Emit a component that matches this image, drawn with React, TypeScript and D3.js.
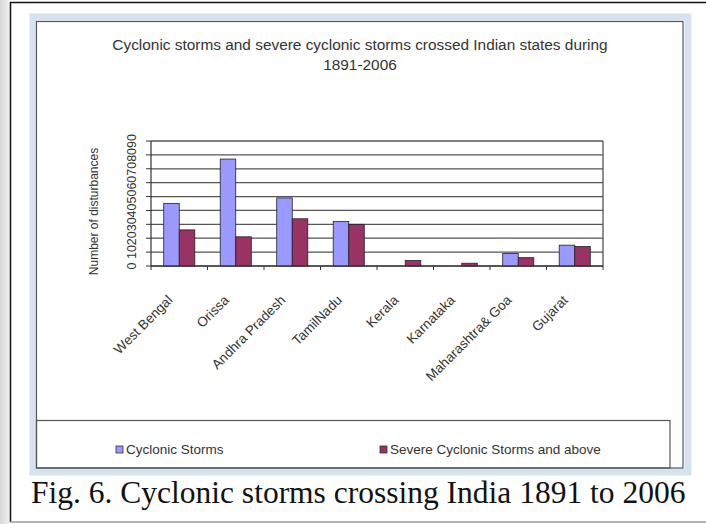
import React from "react";
import * as d3 from "d3";

// Indian states crossed by storms, 1891-2006
const states = [
  "West Bengal",
  "Orissa",
  "Andhra Pradesh",
  "TamilNadu",
  "Kerala",
  "Karnataka",
  "Maharashtra& Goa",
  "Gujarat",
];
const seriesNames = ["Cyclonic Storms", "Severe Cyclonic Storms and above"];
const cyclonicStorms = [45, 77, 49, 32, 0, 0, 9, 15];
const severeStorms = [26, 21, 34, 30, 4, 2, 6, 14];
const yTicks = [0, 10, 20, 30, 40, 50, 60, 70, 80, 90];
const seriesColors = ["#9999ff", "#993366"];

const W = 706;
const H = 524;
const plot = { left: 151, right: 603, top: 141, bottom: 266 };

export default function App() {
  const x0 = d3.scaleBand<string>().domain(states).range([plot.left, plot.right]).padding(0);
  const groupW = x0.bandwidth() * 0.55;
  const x1 = d3.scaleBand<number>().domain([0, 1]).range([0, groupW]);
  const y = d3.scaleLinear().domain([0, 90]).range([plot.bottom, plot.top]);
  const values = [cyclonicStorms, severeStorms];
  const sans = "'Liberation Sans', Arial, sans-serif";

  return (
    <svg
      width={W}
      height={H}
      style={{ position: "absolute", left: 0, top: 0, background: "#fff" }}
    >
      <defs>
        <linearGradient id="edge" x1="0" x2="1" y1="0" y2="0">
          <stop offset="0" stopColor="#d8d8d8" />
          <stop offset="1" stopColor="#f2f2f2" />
        </linearGradient>
      </defs>
      <rect x={0} y={0} width={10} height={H} fill="url(#edge)" />
      {/* figure frame */}
      <line x1={10.5} y1={2} x2={10.5} y2={522} stroke="#111" strokeWidth={1.5} />
      <line x1={10} y1={2.5} x2={706} y2={2.5} stroke="#111" strokeWidth={1.5} />
      <line x1={10} y1={522} x2={706} y2={522} stroke="#999" strokeWidth={1.5} />

      {/* chart area frame */}
      <rect x={33} y={17} width={655} height={455} fill="none" stroke="#d5e3f0" strokeWidth={7} />
      <rect x={36.5} y={21.5} width={646.5} height={446.5} fill="#fff" stroke="#555" strokeWidth={1.2} />

      {/* title */}
      <text x={360} y={50} textAnchor="middle" fontFamily={sans} fontSize={15.4} fill="#333">
        Cyclonic storms and severe cyclonic storms crossed Indian states during
      </text>
      <text x={360} y={70} textAnchor="middle" fontFamily={sans} fontSize={15.4} fill="#333">
        1891-2006
      </text>

      {/* gridlines */}
      {yTicks.map((t) => (
        <line
          key={"g" + t}
          x1={plot.left}
          x2={plot.right}
          y1={y(t)}
          y2={y(t)}
          stroke="#555"
          strokeWidth={1.3}
        />
      ))}
      <line x1={plot.right} x2={plot.right} y1={plot.top} y2={plot.bottom} stroke="#555" strokeWidth={1.3} />

      {/* bars */}
      {states.map((s, i) =>
        values.map((vals, k) => {
          const bx = (x0(s) as number) + (x0.bandwidth() - groupW) / 2 + (x1(k) as number);
          return (
            <rect
              key={s + k}
              x={bx}
              y={y(vals[i])}
              width={x1.bandwidth()}
              height={plot.bottom - y(vals[i])}
              fill={seriesColors[k]}
              stroke="#222"
              strokeWidth={0.8}
            />
          );
        })
      )}

      {/* axes */}
      <line x1={plot.left} x2={plot.left} y1={plot.top} y2={plot.bottom} stroke="#333" strokeWidth={1.2} />
      <line x1={plot.left} x2={plot.right} y1={plot.bottom} y2={plot.bottom} stroke="#333" strokeWidth={1.2} />
      {yTicks.map((t) => (
        <g key={"t" + t}>
          <line x1={plot.left - 5} x2={plot.left} y1={y(t)} y2={y(t)} stroke="#333" />
          <text
            transform={`translate(${plot.left - 15},${y(t)}) rotate(-90)`}
            textAnchor="middle"
            fontFamily={sans}
            fontSize={12.5}
            fill="#333"
          >
            {t}
          </text>
        </g>
      ))}
      {d3.range(states.length + 1).map((i) => {
        const xx = plot.left + i * x0.bandwidth();
        return <line key={"c" + i} x1={xx} x2={xx} y1={plot.bottom} y2={plot.bottom + 4} stroke="#333" />;
      })}
      {states.map((s) => {
        const cx = (x0(s) as number) + x0.bandwidth() / 2;
        return (
          <text
            key={"l" + s}
            transform={`translate(${cx - 6},${plot.bottom + 35}) rotate(-45)`}
            textAnchor="end"
            fontFamily={sans}
            fontSize={13.5}
            fill="#333"
          >
            {s}
          </text>
        );
      })}
      <text
        transform={`translate(98,${(plot.top + plot.bottom) / 2 + 8}) rotate(-90)`}
        textAnchor="middle"
        fontFamily={sans}
        fontSize={12}
        fill="#333"
      >
        Number of disturbances
      </text>

      {/* legend */}
      <rect x={36.5} y={420.5} width={633.5} height={47.5} fill="none" stroke="#555" strokeWidth={1.2} />
      {seriesNames.map((n, k) => {
        const lx = k === 0 ? 116 : 380;
        return (
          <g key={n}>
            <rect x={lx} y={446} width={7} height={7} fill={seriesColors[k]} stroke="#333" strokeWidth={0.8} />
            <text x={lx + 10} y={454} fontFamily={sans} fontSize={13.5} fill="#333">
              {n}
            </text>
          </g>
        );
      })}

      {/* caption */}
      <text
        x={31}
        y={503}
        fontFamily="'Liberation Serif', 'Times New Roman', serif"
        fontSize={31.5}
        fill="#111"
      >
        Fig. 6. Cyclonic storms crossing India 1891 to 2006
      </text>
    </svg>
  );
}
